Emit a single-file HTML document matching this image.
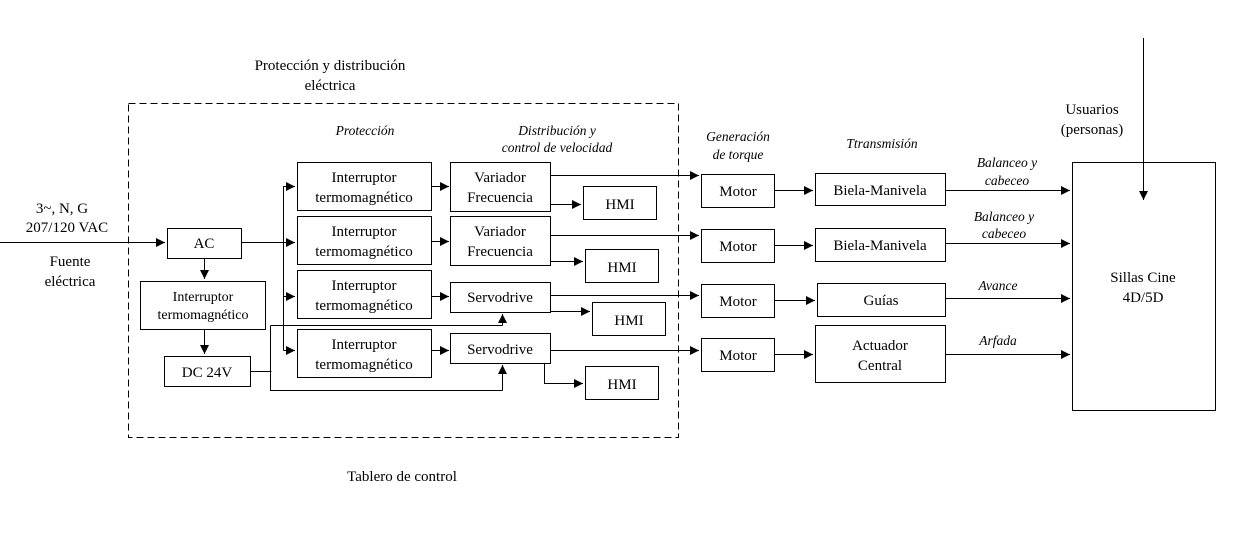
<!DOCTYPE html>
<html><head><meta charset="utf-8"><style>
html,body{margin:0;padding:0;background:#fff}
svg{display:block}
text{font-family:"Liberation Serif",serif;font-size:15px;fill:#000}
.i{font-style:italic;font-size:13.5px}
.s{font-size:14px}
</style></head><body>
<svg width="1242" height="545" viewBox="0 0 1242 545" xmlns="http://www.w3.org/2000/svg">
<defs><marker id="a" viewBox="0 0 10 10" refX="10" refY="5" markerWidth="9" markerHeight="9" markerUnits="userSpaceOnUse" orient="auto"><path d="M0,0L10,5L0,10z" fill="#000"/></marker></defs>
<g fill="none" stroke="#000" stroke-width="1">
<rect x="128.5" y="103.5" width="550" height="334" stroke-dasharray="7,4"/>
<rect x="167.5" y="228.5" width="74" height="30"/>
<rect x="140.5" y="281.5" width="125" height="48"/>
<rect x="164.5" y="356.5" width="86" height="30"/>
<rect x="297.5" y="162.5" width="134" height="48"/>
<rect x="297.5" y="216.5" width="134" height="48"/>
<rect x="297.5" y="270.5" width="134" height="48"/>
<rect x="297.5" y="329.5" width="134" height="48"/>
<rect x="450.5" y="162.5" width="100" height="49"/>
<rect x="450.5" y="216.5" width="100" height="49"/>
<rect x="450.5" y="282.5" width="100" height="30"/>
<rect x="450.5" y="333.5" width="100" height="30"/>
<rect x="583.5" y="186.5" width="73" height="33"/>
<rect x="585.5" y="249.5" width="73" height="33"/>
<rect x="592.5" y="302.5" width="73" height="33"/>
<rect x="585.5" y="366.5" width="73" height="33"/>
<rect x="701.5" y="174.5" width="73" height="33"/>
<rect x="701.5" y="229.5" width="73" height="33"/>
<rect x="701.5" y="284.5" width="73" height="33"/>
<rect x="701.5" y="338.5" width="73" height="33"/>
<rect x="815.5" y="173.5" width="130" height="32"/>
<rect x="815.5" y="228.5" width="130" height="33"/>
<rect x="817.5" y="283.5" width="128" height="33"/>
<rect x="815.5" y="325.5" width="130" height="57"/>
<rect x="1072.5" y="162.5" width="143" height="248"/>
<g marker-end="url(#a)">
<path d="M0 242.5H165"/>
<path d="M204.5 258V279"/>
<path d="M204.5 330V354"/>
<path d="M241 242.5H295"/>
<path d="M283.5 186.5H295"/>
<path d="M283.5 296.5H295"/>
<path d="M283.5 350.5H295"/>
<path d="M432 186.5H449"/>
<path d="M432 241.5H449"/>
<path d="M432 296.5H449"/>
<path d="M432 350.5H449"/>
<path d="M551 204.5H581"/>
<path d="M551 261.5H583"/>
<path d="M551 311.5H590"/>
<path d="M544.5 363V383.5H583"/>
<path d="M502.5 325.5V314"/>
<path d="M502.5 390.5V365"/>
<path d="M551 175.5H699"/>
<path d="M551 235.5H699"/>
<path d="M551 295.5H699"/>
<path d="M551 350.5H699"/>
<path d="M775 190.5H813"/>
<path d="M775 245.5H813"/>
<path d="M775 300.5H815"/>
<path d="M775 354.5H813"/>
<path d="M946 190.5H1070"/>
<path d="M946 243.5H1070"/>
<path d="M946 298.5H1070"/>
<path d="M946 354.5H1070"/>
<path d="M1143.5 38V200"/>
</g>
<path d="M283.5 186.5V350.5"/>
<path d="M251 371.5H271.5"/>
<path d="M270.5 325.5V390.5H502.5"/>
<path d="M270.5 325.5H502.5"/>
</g>
<g text-anchor="middle">
<text x="330" y="70">Protección y distribución</text>
<text x="330" y="90">eléctrica</text>
<text x="365" y="135" class="i">Protección</text>
<text x="557" y="135" class="i">Distribución y</text>
<text x="557" y="152" class="i">control de velocidad</text>
<text x="738" y="141" class="i">Generación</text>
<text x="738" y="159" class="i">de torque</text>
<text x="882" y="148" class="i">Ttransmisión</text>
<text x="1007" y="167" class="i">Balanceo y</text>
<text x="1007" y="185" class="i">cabeceo</text>
<text x="1004" y="221" class="i">Balanceo y</text>
<text x="1004" y="238" class="i">cabeceo</text>
<text x="998" y="290" class="i">Avance</text>
<text x="998" y="345" class="i">Arfada</text>
<text x="1092" y="114">Usuarios</text>
<text x="1092" y="134">(personas)</text>
<text x="62" y="213">3~, N, G</text>
<text x="67" y="232">207/120 VAC</text>
<text x="70" y="266">Fuente</text>
<text x="70" y="286">eléctrica</text>
<text x="204" y="248">AC</text>
<text x="203" y="301" class="s">Interruptor</text>
<text x="203" y="319" class="s">termomagnético</text>
<text x="207" y="377">DC 24V</text>
<text x="364" y="182">Interruptor</text>
<text x="364" y="202">termomagnético</text>
<text x="364" y="236">Interruptor</text>
<text x="364" y="256">termomagnético</text>
<text x="364" y="290">Interruptor</text>
<text x="364" y="310">termomagnético</text>
<text x="364" y="349">Interruptor</text>
<text x="364" y="369">termomagnético</text>
<text x="500" y="182">Variador</text>
<text x="500" y="202">Frecuencia</text>
<text x="500" y="236">Variador</text>
<text x="500" y="256">Frecuencia</text>
<text x="500" y="302">Servodrive</text>
<text x="500" y="354">Servodrive</text>
<text x="620" y="209">HMI</text>
<text x="622" y="272">HMI</text>
<text x="629" y="325">HMI</text>
<text x="622" y="389">HMI</text>
<text x="738" y="196">Motor</text>
<text x="738" y="251">Motor</text>
<text x="738" y="306">Motor</text>
<text x="738" y="360">Motor</text>
<text x="880" y="195">Biela-Manivela</text>
<text x="880" y="250">Biela-Manivela</text>
<text x="881" y="305">Guías</text>
<text x="880" y="350">Actuador</text>
<text x="880" y="370">Central</text>
<text x="1143" y="282">Sillas Cine</text>
<text x="1143" y="302">4D/5D</text>
<text x="402" y="481">Tablero de control</text>
</g>
</svg>
</body></html>
